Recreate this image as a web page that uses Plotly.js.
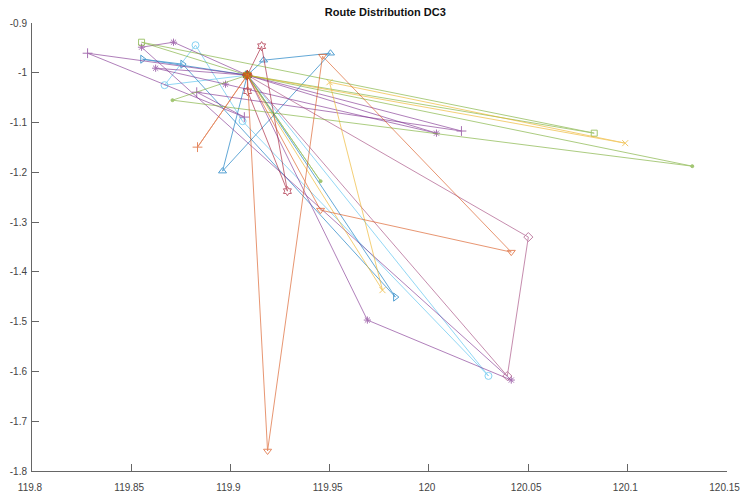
<!DOCTYPE html>
<html>
<head>
<meta charset="utf-8">
<script src="https://cdn.plot.ly/plotly-3.0.1.min.js"></script>
<style>
  html, body { margin: 0; padding: 0; background: #fff; }
  #chart { width: 741px; height: 495px; }
</style>
</head>
<body>
<div id="chart"></div>
<script>
// ---- data ----
const depotX = 119.9085;
const depotY = -1.0048;

// customer stops of each route, in visiting order (route starts and ends at the depot)
const r1x = [119.9167, 119.9504, 119.8960];
const r1y = [-0.9747, -0.9607, -1.1976];
const r2x = [119.8557, 119.8759, 119.9831];
const r2y = [-0.9727, -0.9827, -1.4506];
const r3x = [119.8668, 119.8824, 119.9061, 120.0300];
const r3y = [-1.0249, -0.9446, -1.0972, -1.6090];
const r4x = [119.8280, 119.9070, 119.8830, 120.0164];
const r4y = [-0.9607, -1.0890, -1.0390, -1.1170];
const r5x = [119.8713, 119.8552, 120.0415, 119.9690];
const r5y = [-0.9386, -0.9486, -1.6173, -1.4968];
const r6x = [120.0038, 119.8975, 119.8623];
const r6y = [-1.1213, -1.0229, -0.9908];
const r7x = [120.0501, 120.0395];
const r7y = [-1.3301, -1.6092];
const r8x = [119.9157, 119.9287, 119.9086];
const r8y = [-0.9466, -1.2378, -1.0370];
const r9x = [119.8552, 120.0833];
const r9y = [-0.9386, -1.1213];
const r10x = [120.1327, 119.8708];
const r10y = [-1.1876, -1.0550];
const r11x = [119.9454];
const r11y = [-1.2177];
const r12x = [120.0989, 119.9499, 119.9766];
const r12y = [-1.1414, -1.0189, -1.4366];
const r13x = [119.9187, 119.9464, 120.0415, 119.9454];
const r13y = [-1.7598, -0.9667, -1.3603, -1.2759];
const r14x = [119.8834];
const r14y = [-1.1494];

const xTickVals = [119.8, 119.85, 119.9, 119.95, 120, 120.05, 120.1, 120.15];
const xTickText = ['119.8', '119.85', '119.9', '119.95', '120', '120.05', '120.1', '120.15'];
const yTickVals = [-1.8, -1.7, -1.6, -1.5, -1.4, -1.3, -1.2, -1.1, -1, -0.9];
const yTickText = ['-1.8', '-1.7', '-1.6', '-1.5', '-1.4', '-1.3', '-1.2', '-1.1', '-1', '-0.9'];
const chartTitle = 'Route Distribution DC3';

// ---- styles ----
const routesX = [r1x, r2x, r3x, r4x, r5x, r6x, r7x, r8x, r9x, r10x, r11x, r12x, r13x, r14x];
const routesY = [r1y, r2y, r3y, r4y, r5y, r6y, r7y, r8y, r9y, r10y, r11y, r12y, r13y, r14y];
const routeColors = ['#0072BD', '#0072BD', '#4DBEEE', '#7E2F8E', '#7E2F8E', '#7E2F8E', '#A2447A',
                     '#A2142F', '#77AC30', '#77AC30', '#77AC30', '#EDB120', '#D95319', '#D95319'];
const routeSymbols = ['triangle-up-open', 'triangle-right-open', 'circle-open', 'cross-thin-open',
                      'asterisk-open', 'asterisk-open', 'diamond-open', 'hexagram-open', 'square-open',
                      'circle', 'circle', 'x-thin-open', 'triangle-down-open', 'cross-thin-open'];
const routeSizes = [7, 7, 7, 7, 6, 6, 7, 7, 6, 3, 3, 6, 7, 7];

const traces = routesX.map((xs, i) => ({
  type: 'scatter',
  mode: 'lines+markers',
  x: [depotX].concat(xs, [depotX]),
  y: [depotY].concat(routesY[i], [depotY]),
  line: { color: routeColors[i], width: 0.9 },
  marker: { symbol: routeSymbols[i], size: routeSizes[i], color: routeColors[i],
            line: { color: routeColors[i], width: 1 } },
  opacity: 0.68,
  showlegend: false,
  hoverinfo: 'x+y'
}));

const tickFont = { family: '"Liberation Sans", Arial, sans-serif', size: 10, color: '#444' };

const layout = {
  width: 741,
  height: 495,
  margin: { l: 32, r: 14, t: 23, b: 24, pad: 0 },
  paper_bgcolor: '#ffffff',
  plot_bgcolor: '#ffffff',
  showlegend: false,
  title: {
    text: '<b>' + chartTitle + '</b>',
    font: { family: '"Liberation Sans", Arial, sans-serif', size: 11, color: '#111' },
    xref: 'container', x: 0.52, xanchor: 'center',
    yref: 'container', y: 0.976, yanchor: 'middle'
  },
  xaxis: {
    range: [119.8, 120.1502],
    tickmode: 'array', tickvals: xTickVals, ticktext: xTickText,
    showgrid: false, zeroline: false, showline: true, linecolor: '#666', linewidth: 1,
    ticks: 'inside', ticklen: 7, tickcolor: '#666', tickwidth: 1,
    tickfont: tickFont, ticklabelstandoff: 7, ticklabelshift: -2, ticklabeloverflow: 'allow', mirror: false
  },
  yaxis: {
    range: [-1.8, -0.9],
    tickmode: 'array', tickvals: yTickVals, ticktext: yTickText,
    showgrid: false, zeroline: false, showline: true, linecolor: '#666', linewidth: 1,
    ticks: 'inside', ticklen: 7, tickcolor: '#666', tickwidth: 1,
    tickfont: tickFont, ticklabelstandoff: 2, mirror: false
  }
};

Plotly.newPlot('chart', traces, layout, { displayModeBar: false, staticPlot: true });
</script>
</body>
</html>
